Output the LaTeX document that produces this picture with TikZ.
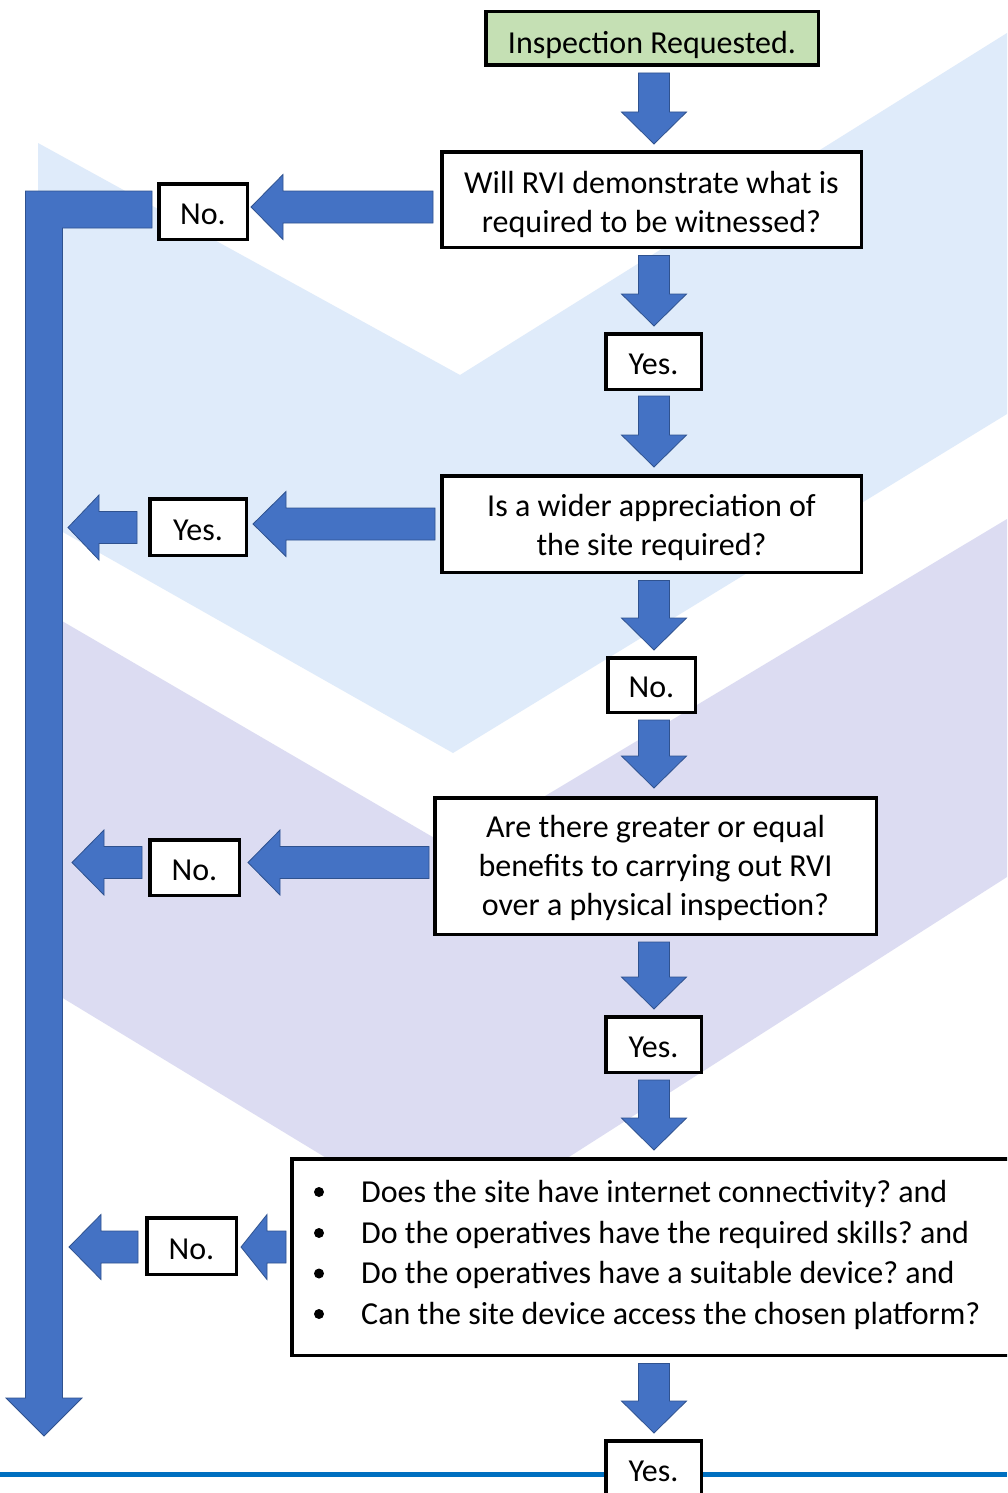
\documentclass[tikz,border=0pt]{standalone}
\usepackage{fontspec}
\setmainfont{Carlito}
\usetikzlibrary{calc}
\definecolor{arrowblue}{HTML}{4472C4}
\definecolor{arrowedge}{HTML}{2F528F}
\definecolor{wmblue}{HTML}{DFEBFA}
\definecolor{wmlav}{HTML}{DCDCF2}
\definecolor{startgreen}{HTML}{C5E0B4}
\definecolor{rulebl}{HTML}{0070C0}
\frenchspacing
% down block arrow: #1 tail point, #2 tip point
\newcommand{\downblock}[2]{%
  \path[barrow] let \p1=#1, \p2=#2 in
   (\x2-15.5pt,\y1) -- (\x2+15.5pt,\y1) -- (\x2+15.5pt,\y2+32pt) -- (\x2+32.5pt,\y2+32pt)
   -- (\x2,\y2) -- (\x2-32.5pt,\y2+32pt) -- (\x2-15.5pt,\y2+32pt) -- cycle;}
% left block arrow: #1 tail point (x used), #2 tip point, #3 head length
\newcommand{\leftblock}[3]{%
  \path[barrow] let \p1=#1, \p2=#2 in
   (\x1,\y2+16pt) -- (\x2+#3,\y2+16pt) -- (\x2+#3,\y2+32.5pt) -- (\x2,\y2)
   -- (\x2+#3,\y2-32.5pt) -- (\x2+#3,\y2-16pt) -- (\x1,\y2-16pt) -- cycle;}
\begin{document}
\begin{tikzpicture}[x=1pt,y=-1pt,
  box/.style={draw=black, line width=3.5pt, fill=white, inner sep=0pt},
  txt/.style={inner sep=0pt, align=center, font=\fontsize{32}{39}\selectfont},
  barrow/.style={fill=arrowblue, draw=arrowedge, line width=0.8pt, line join=miter}]

\clip (0,0) rectangle (1007,1493);
\fill[white] (0,0) rectangle (1007,1493);

% watermark chevrons
\fill[wmblue] (38,143) -- (460,375) -- (1007,33) -- (1007,414) -- (453,753) -- (38,518) -- cycle;
\fill[wmlav] (38,607) -- (455,850) -- (1007,519) -- (1007,877) -- (450,1233) -- (38,983) -- cycle;

% bottom rule
\coordinate (ruleL) at (0,1474);
\coordinate (ruleR) at (1007,1474);
\draw[rulebl, line width=5pt] (ruleL) -- (ruleR);

% column and bar references
\coordinate (col) at (654,0);
\coordinate (barR) at (62,0);
\coordinate (exit) at (44,1436);

% boxes
\node[box, fill=startgreen, minimum width=332.5, minimum height=53.5] (start) at (652,38.5) {};
\node[box, minimum width=419.5, minimum height=95.5] (q1) at (651.5,199.5) {};
\node[box, minimum width=95.5, minimum height=55.5] (y1) at (653.5,361.5) {};
\node[box, minimum width=419.5, minimum height=96.5] (q2) at (651.5,524) {};
\node[box, minimum width=87.5, minimum height=54.5] (n2) at (651.5,685) {};
\node[box, minimum width=441.5, minimum height=136.5] (q3) at (655.5,866) {};
\node[box, minimum width=95.5, minimum height=55.5] (y3) at (653.5,1044.5) {};
\node[box, minimum width=724.5, minimum height=196.5] (q4) at (654,1257) {};
\node[box, minimum width=95.5, minimum height=76.5] (y4) at (653.5,1479) {};
\node[box, minimum width=88.5, minimum height=55.5] (nA) at (203,211.5) {};
\node[box, minimum width=96.5, minimum height=56.5] (yB) at (198,527) {};
\node[box, minimum width=89.5, minimum height=55.5] (nC) at (194.5,867.5) {};
\node[box, minimum width=89.5, minimum height=56.5] (nD) at (191.5,1246) {};

% texts
\node[txt] (startT) at ($(start)+(0,6.5)$) {Inspection Requested.};
\node[txt] (q1T) at ($(q1)+(0,5)$) {Will RVI demonstrate what is\\required to be witnessed?};
\node[txt] (y1T) at ($(y1)+(0,3)$) {Yes.};
\node[txt] (q2T) at ($(q2)+(0,3)$) {Is a wider appreciation of\\the site required?};
\node[txt] (n2T) at ($(n2)+(0,2.5)$) {No.};
\node[txt] (q3T) at ($(q3)+(0,2)$) {Are there greater or equal\\benefits to carrying out RVI\\over a physical inspection?};
\node[txt] (y3T) at ($(y3)+(0,3)$) {Yes.};
\node[txt] (y4T) at ($(y4.north)+(0,32.6)$) {Yes.};
\node[txt] (nAT) at ($(nA)+(0,3)$) {No.};
\node[txt] (yBT) at ($(yB)+(0,3)$) {Yes.};
\node[txt] (nCT) at ($(nC)+(0,3)$) {No.};
\node[txt] (nDT) at ($(nD)+(0,3)$) {No.};

% bullet list
\foreach \i/\yy/\t in {1/1202/{Does the site have internet connectivity? and},
                       2/1243/{Do the operatives have the required skills? and},
                       3/1283.5/{Do the operatives have a suitable device? and},
                       4/1324/{Can the site device access the chosen platform?}}{
  \node[circle, fill=black, inner sep=0pt, minimum size=10] (dot\i) at (319,\yy-10) {};
  \node[txt, anchor=base west] (line\i) at (361,\yy) {\t};
}

% vertical flow arrows
\downblock{($(start.south -| col)+(0,6)$)}{($(q1.north -| col)+(0,-6)$)}
\downblock{($(q1.south -| col)+(0,6.5)$)}{($(y1.north -| col)+(0,-6)$)}
\downblock{($(y1.south -| col)+(0,5)$)}{($(q2.north -| col)+(0,-7)$)}
\downblock{($(q2.south -| col)+(0,6.5)$)}{($(n2.north -| col)+(0,-6)$)}
\downblock{($(n2.south -| col)+(0,6)$)}{($(q3.north -| col)+(0,-8)$)}
\downblock{($(q3.south -| col)+(0,6)$)}{($(y3.north -| col)+(0,-6)$)}
\downblock{($(y3.south -| col)+(0,6)$)}{($(q4.north -| col)+(0,-7)$)}
\downblock{($(q4.south -| col)+(0,6.5)$)}{($(y4.north -| col)+(0,-6)$)}

% left flow arrows
\leftblock{($(q1.west)+(-7,0)$)}{($(nA.east)+(2,-4.5)$)}{32pt}
\leftblock{($(q2.west)+(-5,0)$)}{($(yB.east)+(5,-3)$)}{33pt}
\leftblock{($(yB.west)+(-11,0)$)}{($(yB.west -| barR)+(6,0.5)$)}{31pt}
\leftblock{($(q3.west)+(-4,0)$)}{($(nC.east)+(7,-5)$)}{32pt}
\leftblock{($(nC.west)+(-6,0)$)}{($(nC.west -| barR)+(10,-5)$)}{32pt}
\leftblock{($(q4.west)+(-4,-10)$)}{($(nD.east)+(3,1)$)}{26pt}
\leftblock{($(nD.west)+(-7,0)$)}{($(nD.west -| barR)+(7,1)$)}{32pt}

% big L-shaped return arrow
\path[barrow] let \p1=($(nA.west)+(-5,-2)$), \p2=(exit) in
  (\x1,\y1+18.5pt) -- (\x2-18.5pt,\y1+18.5pt) -- (\x2-18.5pt,\y2+38pt) -- (\x2-38pt,\y2+38pt)
  -- (\x2,\y2) -- (\x2+38pt,\y2+38pt) -- (\x2+18.5pt,\y2+38pt) -- (\x2+18.5pt,\y1-18.5pt)
  -- (\x1,\y1-18.5pt) -- cycle;
\end{tikzpicture}
\end{document}
